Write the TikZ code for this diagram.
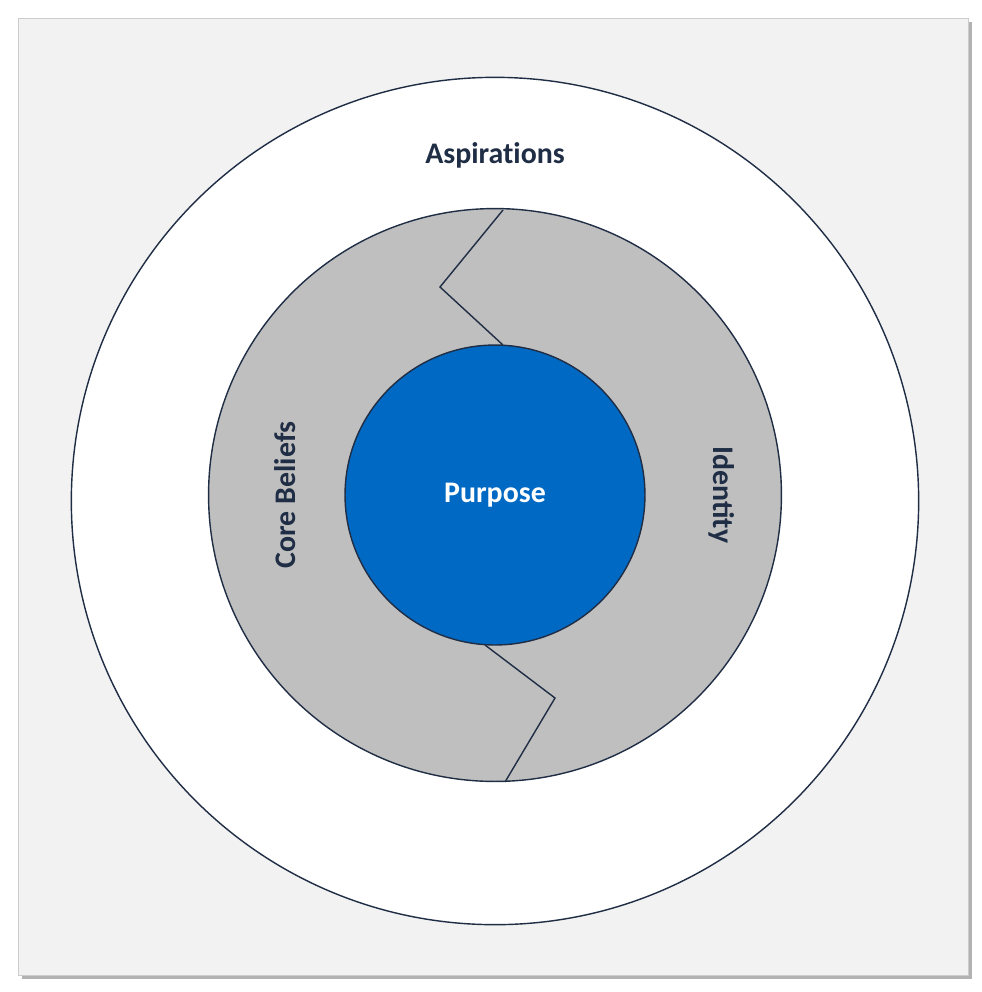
\documentclass[tikz,border=0pt]{standalone}
\usepackage{fontspec}
\setmainfont{Carlito}
\usetikzlibrary{positioning,shadows}
\definecolor{navy}{HTML}{1F2D45}
\definecolor{panel}{HTML}{F2F2F2}
\definecolor{ring}{HTML}{BFBFBF}
\definecolor{core}{HTML}{0069C3}
\tikzset{
  disc/.style = {circle, draw = navy, thick, inner sep = 0pt},
  lbl/.style = {font = \fontsize{17}{20}\selectfont\bfseries, text = navy}
}
\begin{document}
\begin{tikzpicture}[x = 0.02cm, y = -0.02cm]
\useasboundingbox (0,0) rectangle (982,992);
\fill[gray!60] (22,22) rectangle (972,979);
\fill[panel, draw = gray!40] (18,18) rectangle (968,975);
\node[disc, fill = white, minimum size = 16.95cm] (aspire) at (495,501) {};
\node[disc, fill = ring, minimum size = 11.46cm] (belief) at (495,495) {};
\node[disc, fill = core, minimum size = 6cm] (purpose) at (495,495) {};
% dividing zigzags
\coordinate (t1) at (503,210);
\coordinate (t2) at (440,287);
\coordinate (t3) at (503,345);
\coordinate (b1) at (485,645);
\coordinate (b2) at (555,698);
\coordinate (b3) at (505,782);
\draw[navy, thick] (t1) -- (t2) -- (t3);
\draw[navy, thick] (b1) -- (b2) -- (b3);
\node[lbl] (asp) at (495,155) {Aspirat\kern0pt ions};
\node[lbl, rotate = 90] (cb) at (285,495) {Core Beliefs};
\node[lbl, rotate = -90] (id) at (722,495) {Identity};
\node[lbl, text = white] (pu) at (purpose) {Purpose};
\end{tikzpicture}
\end{document}
